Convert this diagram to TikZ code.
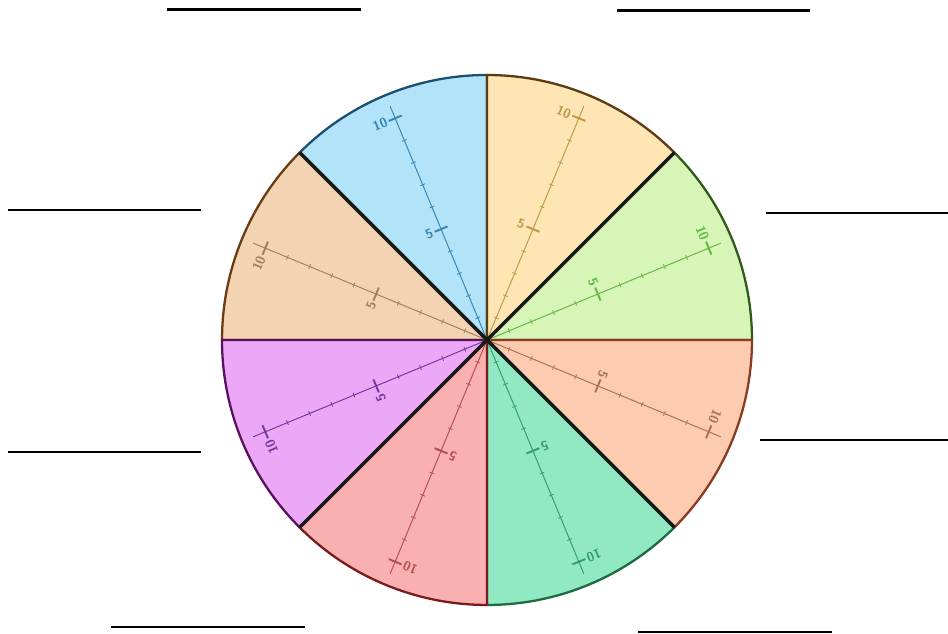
\documentclass[tikz,border=0pt]{standalone}
\usepackage{xcolor}
\usepackage{tikz}
\usetikzlibrary{positioning, calc}
\definecolor{TanFill}{HTML}{F2D3B2}
\definecolor{TanEdge}{HTML}{6A3A14}
\definecolor{TanRule}{HTML}{A0805C}
\definecolor{BlueFill}{HTML}{B3E3F8}
\definecolor{BlueEdge}{HTML}{1B4F72}
\definecolor{BlueRule}{HTML}{3585B5}
\definecolor{YellowFill}{HTML}{FDE5B4}
\definecolor{YellowEdge}{HTML}{5A3A10}
\definecolor{YellowRule}{HTML}{C09848}
\definecolor{GreenFill}{HTML}{D6F5B6}
\definecolor{GreenEdge}{HTML}{2F5A1A}
\definecolor{GreenRule}{HTML}{62B840}
\definecolor{PeachFill}{HTML}{FCCBB0}
\definecolor{PeachEdge}{HTML}{8A3A20}
\definecolor{PeachRule}{HTML}{B07050}
\definecolor{MintFill}{HTML}{90E9C2}
\definecolor{MintEdge}{HTML}{1E6A40}
\definecolor{MintRule}{HTML}{349C70}
\definecolor{RedFill}{HTML}{F8B0B0}
\definecolor{RedEdge}{HTML}{7A1A1A}
\definecolor{RedRule}{HTML}{B84E4E}
\definecolor{MagentaFill}{HTML}{ECA8F6}
\definecolor{MagentaEdge}{HTML}{5A1060}
\definecolor{MagentaRule}{HTML}{7038A0}
\tikzset{
    sector/.style={
        line width=1.3pt,
        line join=round
    },
    spoke/.style={line width=2pt, draw=black!90},
    ruler/.style={line width=0.55pt},
    minortick/.style={line width=0.45pt},
    majortick/.style={line width=1.1pt},
    scalelabel/.style={
        font=\sffamily\bfseries\fontsize{7.5}{7.5}\selectfont,
        inner sep=1pt,
        transform shape
    },
    blank/.style={line width=1.4pt, draw=black}
}

\begin{document}
\begin{tikzpicture}[x=0.02cm, y=0.02cm]

\useasboundingbox (0,0) rectangle (948,634);

% Centre of the wheel
\coordinate (c) at (487,294);

% Sectors
\foreach \a/\fc/\ec in {135/TanFill/TanEdge, 90/BlueFill/BlueEdge,
    45/YellowFill/YellowEdge, 0/GreenFill/GreenEdge,
    -45/PeachFill/PeachEdge, -90/MintFill/MintEdge,
    -135/RedFill/RedEdge, -180/MagentaFill/MagentaEdge}
    \filldraw[sector, fill=\fc, draw=\ec] (c) -- ++(\a:265)
        arc[start angle=\a, delta angle=45, radius=5.3cm] -- cycle;

% Rulers
\foreach \a/\rc [count=\i] in {157.5/TanRule, 112.5/BlueRule,
    67.5/YellowRule, 22.5/GreenRule, -22.5/PeachRule,
    -67.5/MintRule, -112.5/RedRule, -157.5/MagentaRule}{
    \begin{scope}[shift={(c)}, rotate=\a-90, color=\rc]
        \draw[ruler] (0,0) -- (0,253);
        \foreach \k in {1,2,3,4,6,7,8,9}
            \draw[minortick] (-2.5,24*\k) -- (2.5,24*\k);
        \draw[majortick] (-7,120) -- (7,120);
        \draw[majortick] (-7,240) -- (7,240);
        \node[scalelabel, anchor=east] (five\i) at (-7,120) {5};
        \node[scalelabel, anchor=east] (ten\i) at (-7,240) {10};
    \end{scope}
}

% Spokes
\foreach \a in {45,135,225,315}
    \draw[spoke] (c) -- ++(\a:265);

% Answer lines
\draw[blank] (167,624.3) -- (361,624.3);
\draw[blank] (617,623.5) -- (810,623.5);
\draw[blank] (8,424) -- (201,424);
\draw[blank] (766,421) -- (948,421);
\draw[blank] (8,182) -- (201,182);
\draw[blank] (760,194) -- (948,194);
\draw[blank] (111,7) -- (305,7);
\draw[blank] (638,2) -- (832,2);

\end{tikzpicture}
\end{document}
